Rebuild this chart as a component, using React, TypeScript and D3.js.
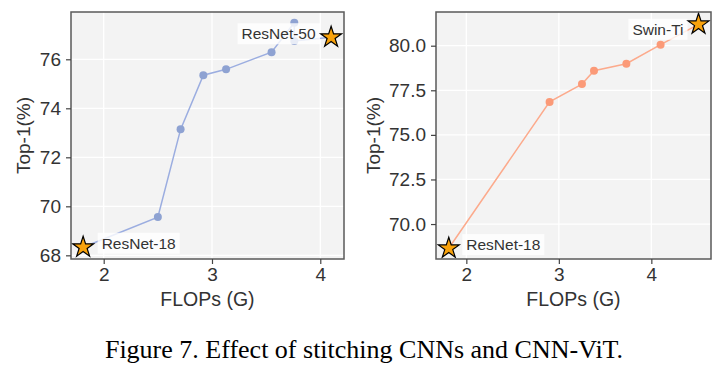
import * as React from "react";
import * as d3 from "d3";

// left panel: stitching ResNet-18 -> ResNet-50
const leftFlops = [1.81, 2.5, 2.71, 2.92, 3.13, 3.55, 3.76, 3.76, 4.1];
const leftTop1 = [68.33, 69.56, 73.14, 75.35, 75.59, 76.29, 77.49, 76.75, 76.9];
const leftTicksX = [2, 3, 4];
const leftTicksY = [68, 70, 72, 74, 76];
const leftAnchorNames = ["ResNet-18", "ResNet-50"];

// right panel: stitching ResNet-18 -> Swin-Ti
const rightFlops = [1.81, 2.9, 3.25, 3.38, 3.73, 4.1, 4.51];
const rightTop1 = [68.64, 76.85, 77.85, 78.6, 78.99, 80.06, 81.2];
const rightTicksX = [2, 3, 4];
const rightTicksY = [70, 72.5, 75, 77.5, 80];
const rightAnchorNames = ["ResNet-18", "Swin-Ti"];

const caption = "Figure 7. Effect of stitching CNNs and CNN-ViT.";

const W = 724;
const H = 374;
const FONT = "'Liberation Sans', Arial, Helvetica, sans-serif";

interface Panel {
  flops: number[];
  top1: number[];
  ticksX: number[];
  ticksY: number[];
  names: string[];
  xDomain: [number, number];
  yDomain: [number, number];
  left: number;
  right: number;
  yLabelGap: number;
  color: string;
  lineColor: string;
  yFormat: (d: number) => string;
  // label placement relative to star, px
  labelOffsets: [number, number, string][];
}

function drawPanel(svg: d3.Selection<SVGSVGElement, unknown, null, undefined>, p: Panel) {
  const top = 12;
  const bottom = 259;
  const x = d3.scaleLinear(p.xDomain, [p.left, p.right]);
  const y = d3.scaleLinear(p.yDomain, [bottom, top]);
  const g = svg.append("g");

  g.append("rect")
    .attr("x", p.left)
    .attr("y", top)
    .attr("width", p.right - p.left)
    .attr("height", bottom - top)
    .attr("fill", "#f3f3f3");

  // grid
  g.selectAll(".gx")
    .data(p.ticksX)
    .enter()
    .append("line")
    .attr("x1", (d) => x(d))
    .attr("x2", (d) => x(d))
    .attr("y1", top)
    .attr("y2", bottom)
    .attr("stroke", "white")
    .attr("stroke-width", 1.3);
  g.selectAll(".gy")
    .data(p.ticksY)
    .enter()
    .append("line")
    .attr("x1", p.left)
    .attr("x2", p.right)
    .attr("y1", (d) => y(d))
    .attr("y2", (d) => y(d))
    .attr("stroke", "white")
    .attr("stroke-width", 1.3);

  // series
  const pts = p.flops.map((f, i) => [f, p.top1[i]] as [number, number]);
  const line = d3
    .line<[number, number]>()
    .x((d) => x(d[0]))
    .y((d) => y(d[1]));
  g.append("path")
    .attr("d", line(pts))
    .attr("fill", "none")
    .attr("stroke", p.lineColor)
    .attr("stroke-width", 1.5);
  g.selectAll(".pt")
    .data(pts.slice(1, -1))
    .enter()
    .append("circle")
    .attr("cx", (d) => x(d[0]))
    .attr("cy", (d) => y(d[1]))
    .attr("r", 4)
    .attr("fill", p.color);

  // labels with translucent boxes
  const ends = [pts[0], pts[pts.length - 1]];
  ends.forEach((d, i) => {
    const [dx, dy, anchor] = p.labelOffsets[i];
    const lg = g.append("g");
    const t = lg
      .append("text")
      .attr("x", x(d[0]) + dx)
      .attr("y", y(d[1]) + dy)
      .attr("text-anchor", anchor)
      .attr("dominant-baseline", "central")
      .attr("font-family", FONT)
      .attr("font-size", 15.5)
      .attr("fill", "#333")
      .text(p.names[i]);
    const bb = (t.node() as SVGTextElement).getBBox();
    lg.insert("rect", "text")
      .attr("x", bb.x - 4)
      .attr("y", y(d[1]) + dy - 10.5)
      .attr("width", bb.width + 8)
      .attr("height", 21)
      .attr("fill", "white")
      .attr("fill-opacity", 0.8);
  });

  // stars
  const star = d3.symbol(d3.symbolStar, 136);
  g.selectAll(".star")
    .data(ends)
    .enter()
    .append("path")
    .attr("d", star())
    .attr("transform", (d) => `translate(${x(d[0])},${y(d[1])})`)
    .attr("fill", "#f8a20c")
    .attr("stroke", "black")
    .attr("stroke-width", 1.2);

  // frame
  g.append("rect")
    .attr("x", p.left)
    .attr("y", top)
    .attr("width", p.right - p.left)
    .attr("height", bottom - top)
    .attr("fill", "none")
    .attr("stroke", "#5a5a5a")
    .attr("stroke-width", 1.5);

  // axes
  const xAxis = g
    .append("g")
    .attr("transform", `translate(0,${bottom})`)
    .call(d3.axisBottom(x).tickValues(p.ticksX).tickSize(5).tickPadding(4).tickFormat(d3.format("d")));
  const yAxis = g
    .append("g")
    .attr("transform", `translate(${p.left},0)`)
    .call(d3.axisLeft(y).tickValues(p.ticksY).tickSize(5).tickPadding(5).tickFormat((d) => p.yFormat(d as number)));
  [xAxis, yAxis].forEach((a) => {
    a.select(".domain").remove();
    a.selectAll("line").attr("stroke", "#444").attr("stroke-width", 1.2);
    a.selectAll("text").attr("fill", "#333").attr("font-size", 19).attr("font-family", FONT);
  });

  g.append("text")
    .attr("x", (p.left + p.right) / 2)
    .attr("y", 306)
    .attr("text-anchor", "middle")
    .attr("font-family", FONT)
    .attr("font-size", 19.5)
    .attr("fill", "#333")
    .text("FLOPs (G)");
  g.append("text")
    .attr("transform", `translate(${p.left - p.yLabelGap},${(top + bottom) / 2}) rotate(-90)`)
    .attr("text-anchor", "middle")
    .attr("font-family", FONT)
    .attr("font-size", 19)
    .attr("fill", "#333")
    .text("Top-1(%)");
}

export default function App() {
  const ref = React.useRef<HTMLDivElement | null>(null);
  React.useEffect(() => {
    const svg = d3
      .select(ref.current)
      .append("svg")
      .attr("width", W)
      .attr("height", H)
      .style("position", "absolute")
      .style("left", "0px")
      .style("top", "0px")
      .style("background", "white");

    drawPanel(svg, {
      flops: leftFlops,
      top1: leftTop1,
      ticksX: leftTicksX,
      ticksY: leftTicksY,
      names: leftAnchorNames,
      xDomain: [1.698, 4.219],
      yDomain: [67.85, 77.93],
      left: 71,
      right: 344,
      yLabelGap: 41,
      color: "#8ea2d2",
      lineColor: "#9bade0",
      yFormat: d3.format("d"),
      labelOffsets: [
        [18.5, -4, "start"],
        [-15.5, -3.5, "end"],
      ],
    });

    drawPanel(svg, {
      flops: rightFlops,
      top1: rightTop1,
      ticksX: rightTicksX,
      ticksY: rightTicksY,
      names: rightAnchorNames,
      xDomain: [1.672, 4.645],
      yDomain: [68.04, 81.89],
      left: 436,
      right: 711,
      yLabelGap: 56,
      color: "#fb9a78",
      lineColor: "#fcaa8c",
      yFormat: d3.format(".1f"),
      labelOffsets: [
        [17.5, -3.7, "start"],
        [-15, 5, "end"],
      ],
    });

    svg
      .append("text")
      .attr("x", 364)
      .attr("y", 358)
      .attr("text-anchor", "middle")
      .attr("font-family", "'Liberation Serif', 'Times New Roman', serif")
      .attr("font-size", 26)
      .attr("fill", "black")
      .text(caption);

    return function cleanup() {
      // eslint-disable-next-line react-hooks/exhaustive-deps
      d3.select(ref.current).selectAll("svg").remove();
    };
  }, []);

  return <div ref={ref}></div>;
}
